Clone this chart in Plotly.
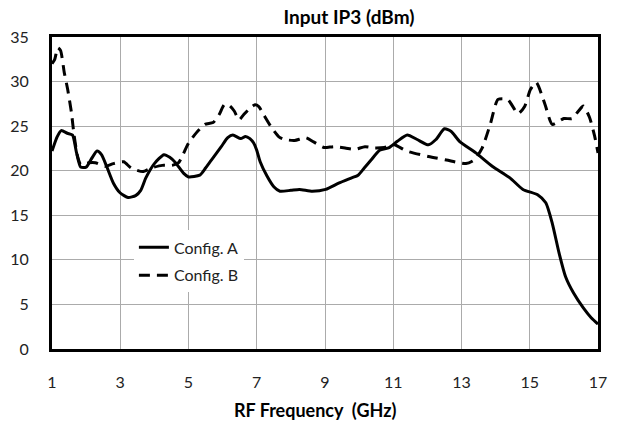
import plotly.graph_objects as go

# Config. A (solid)
freq_a = [1.0, 1.15, 1.27, 1.45, 1.6, 1.72, 1.84, 2.0, 2.15, 2.32, 2.45, 2.6, 2.8, 3.0, 3.23, 3.45,
          3.6, 3.75, 4.0, 4.28, 4.45, 4.62, 4.86, 5.0, 5.33, 5.5, 5.67, 5.96, 6.15, 6.3, 6.53, 6.67,
          6.8, 6.91, 7.0, 7.1, 7.3, 7.5, 7.68, 8.0, 8.25, 8.63, 9.02, 9.4, 9.78, 9.97, 10.15, 10.35,
          10.6, 10.88, 11.12, 11.41, 11.7, 12.03, 12.25, 12.5, 12.7, 12.94, 13.42, 13.9, 14.42, 14.8,
          15.23, 15.47, 15.66, 15.86, 16.05, 16.28, 16.57, 16.8, 17.0]
iip3_a = [22.2, 23.8, 24.5, 24.2, 24.0, 22.0, 20.4, 20.4, 21.3, 22.2, 21.8, 20.5, 18.6, 17.5, 17.0, 17.2,
          17.8, 19.2, 20.8, 21.8, 21.5, 20.9, 19.7, 19.3, 19.5, 20.3, 21.2, 22.7, 23.7, 24.0, 23.6, 23.85,
          23.6, 23.1, 22.3, 21.0, 19.4, 18.2, 17.7, 17.8, 17.9, 17.7, 17.9, 18.6, 19.2, 19.5, 20.3, 21.2,
          22.3, 22.6, 23.3, 24.0, 23.5, 22.9, 23.5, 24.7, 24.4, 23.3, 22.0, 20.5, 19.2, 17.9,
          17.3, 16.4, 14.1, 10.75, 8.1, 6.3, 4.6, 3.5, 2.8]

# Config. B (dashed)
freq_b = [1.0, 1.08, 1.17, 1.25, 1.36, 1.46, 1.57, 1.65, 1.75, 1.84, 2.08, 2.27, 2.56, 2.8, 3.1, 3.32,
          3.66, 3.9, 4.23, 4.52, 4.71, 4.85, 5.0, 5.24, 5.48, 5.72, 5.9, 6.05, 6.2, 6.34, 6.48, 6.62,
          6.77, 6.95, 7.06, 7.2, 7.44, 7.65, 7.82, 8.11, 8.44, 8.68, 8.97, 9.26, 9.59, 9.88, 10.17,
          10.45, 10.74, 11.03, 11.4, 12.03, 12.56, 13.13, 13.37, 13.6, 13.85, 14.07, 14.35, 14.66,
          14.85, 15.02, 15.19, 15.45, 15.66, 16.0, 16.24, 16.43, 16.57, 16.75, 16.9, 17.0]
iip3_b = [32.0, 32.5, 33.8, 33.5, 31.0, 29.1, 26.5, 23.9, 21.6, 20.7, 20.9, 20.9, 20.5, 20.8, 21.0, 20.3,
          19.9, 20.3, 20.6, 20.6, 20.9, 21.9, 23.1, 24.3, 25.2, 25.4, 26.3, 27.4, 27.3, 26.7, 25.7, 26.3,
          26.9, 27.4, 27.2, 26.3, 24.8, 23.8, 23.5, 23.4, 23.7, 23.2, 22.6, 22.7, 22.55, 22.4, 22.7,
          22.55, 22.6, 22.9, 22.2, 21.6, 21.2, 20.8, 21.2, 22.5, 25.3, 28.0, 28.0, 26.4,
          27.2, 29.1, 29.9, 27.4, 25.2, 25.85, 25.85, 26.7, 27.25, 26.0, 23.9, 22.0]

x_ticks = [1, 3, 5, 7, 9, 11, 13, 15, 17]
y_ticks = [0, 5, 10, 15, 20, 25, 30, 35]

FONT = "Lato, 'Open Sans', Arial, sans-serif"

fig = go.Figure()
fig.add_trace(go.Scatter(x=freq_a, y=iip3_a, mode="lines", name="Config. A", legendgroup="a",
                         line=dict(color="black", width=3, shape="spline", smoothing=0.6)))
fig.add_trace(go.Scatter(x=freq_b, y=iip3_b, mode="lines", name="Config. B", legendgroup="b",
                         line=dict(color="black", width=3, dash="11px,7px", shape="spline", smoothing=0.6)))

fig.update_layout(
    width=617, height=425,
    margin=dict(l=47, r=10, t=37, b=76),
    paper_bgcolor="white", plot_bgcolor="white",
    font=dict(family=FONT, size=16, color="#222222"),
    title=dict(text="<b>Input IP3 (dBm)</b>", x=349 / 617, xanchor="center",
               y=1 - 17 / 425, yanchor="middle", font=dict(size=19, color="black")),
    showlegend=True,
    legend=dict(x=0.15, xanchor="left", y=0.38, yanchor="top", bgcolor="white",
                tracegroupgap=4, font=dict(size=16, color="#222222")),
    annotations=[dict(text="<b>RF Frequency \u00a0(GHz)</b>", xref="paper", yref="paper",
                      x=(317 - 47) / 560, y=(349 - 410) / 312, xanchor="center", yanchor="middle",
                      showarrow=False, font=dict(size=18, color="black"))],
)
fig.update_xaxes(range=[1, 17], tickvals=x_ticks, ticktext=[str(v) for v in x_ticks],
                 showgrid=True, gridcolor="#ababab", gridwidth=1,
                 showline=True, linecolor="black", linewidth=3, mirror=True,
                 zeroline=False, ticks="", ticklabelstandoff=17)
fig.update_yaxes(range=[0, 35], tickvals=y_ticks, ticktext=[str(v) for v in y_ticks],
                 showgrid=True, gridcolor="#ababab", gridwidth=1,
                 showline=True, linecolor="black", linewidth=3, mirror=True,
                 zeroline=False, ticks="", ticklabelstandoff=17)

fig.write_html(
    "out.html", config={"displayModeBar": False},
    post_script=("document.documentElement.style.margin='0';document.body.style.margin='0';"
                 "document.body.style.lineHeight='0';document.body.style.fontSize='0';"
                 "document.body.style.overflow='hidden';document.documentElement.style.overflow='hidden';"),
)
